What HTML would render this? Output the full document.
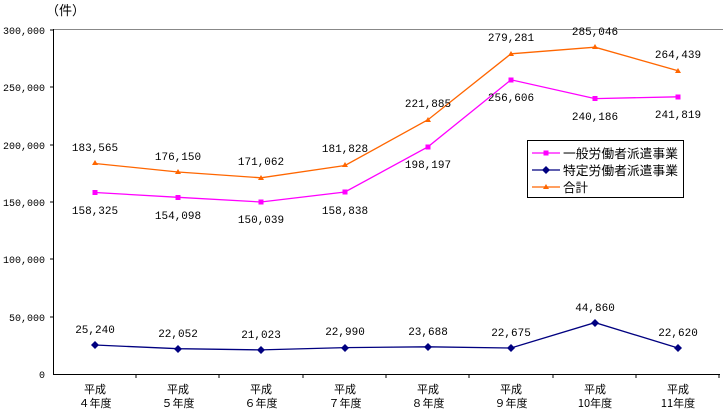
<!DOCTYPE html>
<html><head><meta charset="utf-8"><style>
body{margin:0;background:#fff}
svg{font-family:"Liberation Mono","Noto Sans CJK JP",monospace;font-size:12px}
</style></head><body>
<svg width="723" height="415" xmlns="http://www.w3.org/2000/svg">
<rect width="723" height="415" fill="#fff"/>
<text x="46" y="15" font-size="13" font-family="Noto Sans CJK JP">（件）</text>
<line x1="53" y1="29.5" x2="723" y2="29.5" stroke="#888"/>
<line x1="53.5" y1="29" x2="53.5" y2="374" stroke="#000"/>
<line x1="53" y1="374.5" x2="720" y2="374.5" stroke="#000"/>
<g text-anchor="end" font-size="10">
<text x="45" y="34">300,000</text><text x="45" y="91">250,000</text><text x="45" y="149">200,000</text>
<text x="45" y="206">150,000</text><text x="45" y="263">100,000</text><text x="45" y="321">50,000</text><text x="45" y="378">0</text>
</g>
<g stroke="#000">
<line x1="50" y1="30" x2="53" y2="30"/><line x1="50" y1="87" x2="53" y2="87"/><line x1="50" y1="145" x2="53" y2="145"/>
<line x1="50" y1="202" x2="53" y2="202"/><line x1="50" y1="259" x2="53" y2="259"/><line x1="50" y1="317" x2="53" y2="317"/>
<line x1="136" y1="374" x2="136" y2="378"/><line x1="219" y1="374" x2="219" y2="378"/><line x1="303" y1="374" x2="303" y2="378"/>
<line x1="386" y1="374" x2="386" y2="378"/><line x1="469" y1="374" x2="469" y2="378"/><line x1="553" y1="374" x2="553" y2="378"/>
<line x1="636" y1="374" x2="636" y2="378"/><line x1="719" y1="374" x2="719" y2="378"/>
</g>
<g text-anchor="middle" font-size="11" font-family="Noto Sans CJK JP">
<text x="95" y="393">平成</text><text x="95" y="407">４年度</text>
<text x="178" y="393">平成</text><text x="178" y="407">５年度</text>
<text x="261" y="393">平成</text><text x="261" y="407">６年度</text>
<text x="345" y="393">平成</text><text x="345" y="407">７年度</text>
<text x="428" y="393">平成</text><text x="428" y="407">８年度</text>
<text x="511" y="393">平成</text><text x="511" y="407">９年度</text>
<text x="595" y="393">平成</text><text x="595" y="407">10年度</text>
<text x="678" y="393">平成</text><text x="678" y="407">11年度</text>
</g>
<polyline fill="none" stroke="#ff6600" stroke-width="1.3" points="95,163.5 178,172 261,177.8 345,165.5 428,119.7 511,53.8 595,47.2 678,70.8"/>
<polyline fill="none" stroke="#ff00ff" stroke-width="1.3" points="95,192.5 178,197.3 261,202 345,192 428,146.8 511,79.8 595,98.6 678,96.8"/>
<polyline fill="none" stroke="#000080" stroke-width="1.3" points="95,345 178,348.7 261,349.9 345,347.6 428,346.8 511,348 595,322.6 678,348"/>
<g fill="#ff6600">
<path d="M95,160l3,5h-6z"/><path d="M178,169l3,5h-6z"/><path d="M261,175l3,5h-6z"/><path d="M345,162l3,5h-6z"/>
<path d="M428,117l3,5h-6z"/><path d="M511,51l3,5h-6z"/><path d="M595,44l3,5h-6z"/><path d="M678,68l3,5h-6z"/>
</g>
<g fill="#ff00ff">
<rect x="92.5" y="190" width="5" height="5"/><rect x="175.5" y="195" width="5" height="5"/><rect x="258.5" y="199.5" width="5" height="5"/><rect x="342.5" y="189.5" width="5" height="5"/>
<rect x="425.5" y="144.5" width="5" height="5"/><rect x="508.5" y="77.5" width="5" height="5"/><rect x="592.5" y="96" width="5" height="5"/><rect x="675.5" y="94.5" width="5" height="5"/>
</g>
<g fill="#000080">
<path d="M95,341l4,4-4,4-4-4z"/><path d="M178,345l4,4-4,4-4-4z"/><path d="M261,346l4,4-4,4-4-4z"/><path d="M345,344l4,4-4,4-4-4z"/>
<path d="M428,343l4,4-4,4-4-4z"/><path d="M511,344l4,4-4,4-4-4z"/><path d="M595,319l4,4-4,4-4-4z"/><path d="M678,344l4,4-4,4-4-4z"/>
</g>
<g text-anchor="middle" font-size="11">
<text x="95" y="151">183,565</text><text x="178" y="160">176,150</text><text x="261" y="165">171,062</text><text x="345" y="152">181,828</text>
<text x="428" y="107">221,885</text><text x="511" y="41">279,281</text><text x="595" y="35">285,046</text><text x="678" y="58">264,439</text>
<text x="95" y="214">158,325</text><text x="178" y="219">154,098</text><text x="261" y="223">150,039</text><text x="345" y="214">158,838</text>
<text x="428" y="168">198,197</text><text x="511" y="101">256,606</text><text x="595" y="120">240,186</text><text x="678" y="118">241,819</text>
<text x="95" y="333">25,240</text><text x="178" y="337">22,052</text><text x="261" y="338">21,023</text><text x="345" y="335">22,990</text>
<text x="428" y="335">23,688</text><text x="511" y="336">22,675</text><text x="595" y="311">44,860</text><text x="678" y="336">22,620</text>
</g>
<rect x="527.5" y="140.5" width="156" height="57" fill="#fff" stroke="#000"/>
<line x1="532" y1="153" x2="560" y2="153" stroke="#ff00ff" stroke-width="1.3"/><rect x="543.5" y="150.5" width="5" height="5" fill="#ff00ff"/>
<line x1="532" y1="170" x2="560" y2="170" stroke="#000080" stroke-width="1.3"/><path d="M546,166l4,4-4,4-4-4z" fill="#000080"/>
<line x1="532" y1="187" x2="560" y2="187" stroke="#ff6600" stroke-width="1.3"/><path d="M546,184l3,5h-6z" fill="#ff6600"/>
<g font-family="Noto Sans CJK JP" font-size="12.5">
<text x="563" y="158" textLength="115" lengthAdjust="spacingAndGlyphs">一般労働者派遣事業</text>
<text x="563" y="175" textLength="115" lengthAdjust="spacingAndGlyphs">特定労働者派遣事業</text>
<text x="563" y="192">合計</text>
</g>
</svg>
</body></html>
